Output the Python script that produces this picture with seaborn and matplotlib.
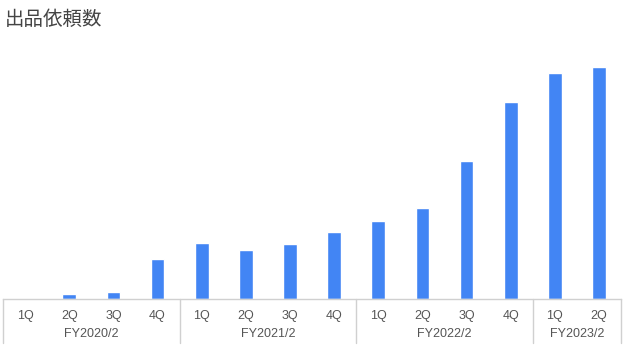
import matplotlib
matplotlib.use("Agg")
import matplotlib.pyplot as plt
import seaborn as sns
import pandas as pd
from matplotlib.transforms import blended_transform_factory

quarters = ["1Q", "2Q", "3Q", "4Q", "1Q", "2Q", "3Q", "4Q",
            "1Q", "2Q", "3Q", "4Q", "1Q", "2Q"]
fiscal_years = ["FY2020/2", "FY2021/2", "FY2022/2", "FY2023/2"]
quarters_per_year = [4, 4, 4, 2]
requests = [0, 5, 7, 40, 56, 49, 55, 67, 78, 91, 138, 197, 226, 232]

sns.set_theme(style="white")
plt.rcParams['font.family'] = ['Liberation Sans', 'Noto Sans CJK JP', 'DejaVu Sans']

df = pd.DataFrame({"idx": list(range(len(requests))), "value": requests})

fig = plt.figure(figsize=(6.25, 3.54), dpi=100)
ax = fig.add_axes([0.0048, 0.155, 0.989, 0.732])
sns.barplot(data=df, x="idx", y="value", color="#4285F4", width=0.31,
            saturation=1, ax=ax)
ax.set_ylim(0, 259)
ax.set_xlim(-0.5, len(requests) - 0.5)
for s in ["top", "right", "left"]:
    ax.spines[s].set_visible(False)
ax.spines["bottom"].set_color("#d0d0d0")
ax.spines["bottom"].set_linewidth(1)
ax.set_yticks([])
ax.set_xticks(range(len(quarters)))
ax.set_xticklabels(quarters, fontsize=9, color="#555555")
ax.tick_params(axis="x", length=0, pad=8)
ax.set_xlabel("")
ax.set_ylabel("")

trans = blended_transform_factory(ax.transData, ax.transAxes)
start = 0
bounds = [-0.5]
for fy, n in zip(fiscal_years, quarters_per_year):
    center = start + (n - 1) / 2
    ax.text(center, -0.135, fy, transform=trans, ha="center", va="center",
            fontsize=9, color="#555555")
    start += n
    bounds.append(start - 0.5)
for b in bounds:
    ax.plot([b, b], [0, -0.17], transform=trans, color="#d0d0d0",
            lw=1, clip_on=False)

fig.text(0.008, 0.946, "出品依頼数", fontsize=14, color="#444444",
         ha="left", va="center", family=['Noto Sans CJK JP', 'DejaVu Sans'])

fig.savefig("out.png", dpi=100, facecolor="white")
